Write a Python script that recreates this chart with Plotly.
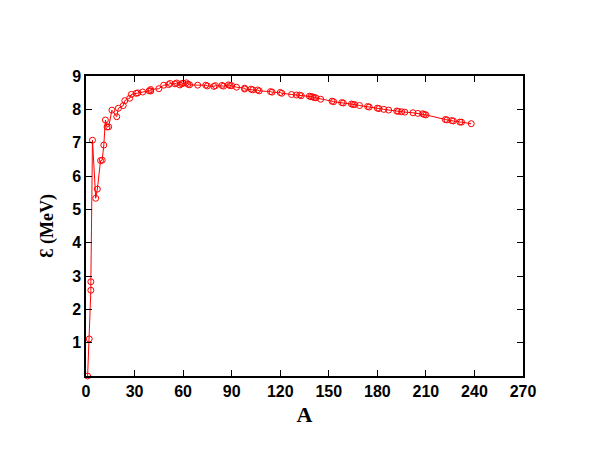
import plotly.graph_objects as go

# Mass number A and binding energy per nucleon (MeV)
mass_number = [1, 2, 3, 3, 4, 6, 7, 9, 10, 11, 12, 13, 14, 16, 19, 20, 23, 24, 27, 28,
               31, 32, 35, 39, 40, 40, 45, 48, 51, 52, 55, 56, 58, 59, 60, 62, 63, 64,
               69, 74, 75, 79, 80, 84, 85, 88, 89, 90, 93, 98, 98, 102, 103, 106, 107,
               114, 115, 120, 121, 127, 130, 132, 133, 138, 139, 140, 141, 142, 145,
               152, 153, 158, 159, 164, 165, 166, 169, 174, 175, 180, 181, 184, 187,
               192, 193, 195, 197, 202, 205, 208, 209, 210, 222, 223, 226, 227, 231,
               232, 238]
binding_energy = [0.0, 1.112, 2.573, 2.827, 7.074, 5.332, 5.606, 6.463, 6.475, 6.928,
                  7.680, 7.470, 7.476, 7.976, 7.779, 8.032, 8.112, 8.261, 8.332, 8.448,
                  8.481, 8.493, 8.520, 8.557, 8.551, 8.595, 8.619, 8.723, 8.742, 8.776,
                  8.765, 8.790, 8.732, 8.768, 8.781, 8.795, 8.752, 8.736, 8.725, 8.725,
                  8.701, 8.688, 8.711, 8.717, 8.697, 8.733, 8.714, 8.710, 8.664, 8.635,
                  8.610, 8.607, 8.584, 8.580, 8.554, 8.532, 8.516, 8.505, 8.482, 8.445,
                  8.430, 8.428, 8.410, 8.393, 8.378, 8.376, 8.354, 8.346, 8.303, 8.244,
                  8.229, 8.202, 8.189, 8.159, 8.147, 8.142, 8.115, 8.084, 8.069, 8.035,
                  8.023, 7.999, 7.978, 7.948, 7.938, 7.927, 7.916, 7.897, 7.878, 7.868,
                  7.848, 7.834, 7.695, 7.683, 7.662, 7.651, 7.618, 7.615, 7.570]

x_ticks = [0, 30, 60, 90, 120, 150, 180, 210, 240, 270]
y_ticks = [1, 2, 3, 4, 5, 6, 7, 8, 9]

fig = go.Figure()
fig.add_trace(go.Scatter(
    x=mass_number, y=binding_energy, mode="lines+markers",
    line=dict(color="#ff0000", width=1),
    marker=dict(symbol="circle-open", size=6, color="#ff0000", line=dict(width=1)),
    showlegend=False, cliponaxis=False,
))

tickfont = dict(family="Liberation Sans, Arial, sans-serif", size=16, color="black")
axis_common = dict(
    showgrid=False, zeroline=False, showline=True, linecolor="black", linewidth=1.5,
    mirror="ticks", ticks="inside", ticklen=6, tickwidth=1.2, tickcolor="black",
    tickfont=tickfont,
)

fig.update_xaxes(
    range=[0, 270], tickvals=x_ticks, ticktext=[f"<b>{t}</b>" for t in x_ticks],
    title=dict(text="<b>A</b>", font=dict(family="Liberation Serif, Times New Roman, serif",
                                          size=22, color="black"), standoff=8),
    **axis_common,
)
fig.update_yaxes(
    range=[0, 9], tickvals=y_ticks, ticktext=[f"<b>{t}</b>" for t in y_ticks],
    title=dict(text="<b>Ɛ (MeV)</b>", font=dict(family="Liberation Serif, Times New Roman, serif",
                                              size=18, color="black"), standoff=14),
    **axis_common,
)

fig.update_layout(
    width=598, height=462,
    margin=dict(l=78, r=83, t=68, b=94),
    plot_bgcolor="white", paper_bgcolor="white",
)

fig.write_html("out.html")
